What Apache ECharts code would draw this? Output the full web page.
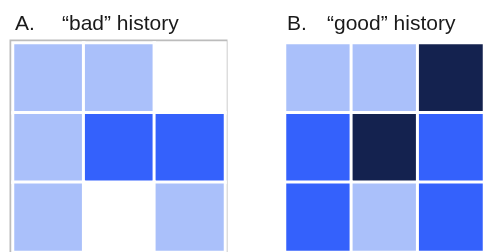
<!DOCTYPE html>
<html>
<head>
<meta charset="utf-8">
<script src="https://cdn.jsdelivr.net/npm/echarts@6/dist/echarts.min.js"></script>
<style>
    html, body { margin: 0; padding: 0; background: #fff; }
    #main { width: 484px; height: 252px; }
</style>
</head>
<body>
<div id="main"></div>
<script>
    // 0 = white, 1 = light, 2 = medium, 3 = dark
    var cols = ['c1', 'c2', 'c3'];
    var rows = ['r1', 'r2', 'r3'];
    var badHistory = [
        [1, 1, 0],
        [1, 2, 2],
        [1, 0, 1]
    ];
    var goodHistory = [
        [1, 1, 3],
        [2, 3, 2],
        [2, 1, 2]
    ];
    var levelColors = ['#ffffff', '#aac0fa', '#3461fc', '#14224f'];

    function toCells(matrix) {
        var out = [];
        for (var r = 0; r < matrix.length; r++) {
            for (var c = 0; c < matrix[r].length; c++) {
                out.push([c, r, matrix[r][c]]);
            }
        }
        return out;
    }

    var titleFont = { fontFamily: 'Liberation Sans', fontSize: 21, color: '#1a1a1a', fontWeight: 'normal' };

    var chart = echarts.init(document.getElementById('main'));
    chart.setOption({
        animation: false,
        title: [
            { text: 'A.', left: 10, top: 9, textStyle: titleFont },
            { text: '\u201cbad\u201d history', left: 57, top: 9, textStyle: titleFont },
            { text: 'B.', left: 282, top: 9, textStyle: titleFont },
            { text: '\u201cgood\u201d history', left: 322, top: 9, textStyle: titleFont }
        ],
        visualMap: {
            show: false,
            type: 'piecewise',
            dimension: 2,
            seriesIndex: [0, 1],
            pieces: levelColors.map(function (col, i) { return { value: i, color: col }; })
        },
        grid: [
            { left: 13, top: 43, width: 212, height: 212, show: false },
            { left: 285, top: 43, width: 212, height: 212, show: false },
            // frame round panel A
            { left: 11, top: 41, width: 215, height: 230, show: true, borderColor: '#bcbcbc', borderWidth: 3, backgroundColor: 'transparent' }
        ],
        xAxis: [
            { type: 'category', data: cols, gridIndex: 0, show: false },
            { type: 'category', data: cols, gridIndex: 1, show: false },
            { type: 'category', data: cols, gridIndex: 2, show: false }
        ],
        yAxis: [
            { type: 'category', data: rows, gridIndex: 0, inverse: true, show: false },
            { type: 'category', data: rows, gridIndex: 1, inverse: true, show: false },
            { type: 'category', data: rows, gridIndex: 2, inverse: true, show: false }
        ],
        series: [
            {
                type: 'heatmap', xAxisIndex: 0, yAxisIndex: 0,
                data: toCells(badHistory),
                itemStyle: { borderColor: '#ffffff', borderWidth: 3 }
            },
            {
                type: 'heatmap', xAxisIndex: 1, yAxisIndex: 1,
                data: toCells(goodHistory),
                itemStyle: { borderColor: '#ffffff', borderWidth: 3 }
            }
        ]
    });
</script>
</body>
</html>
